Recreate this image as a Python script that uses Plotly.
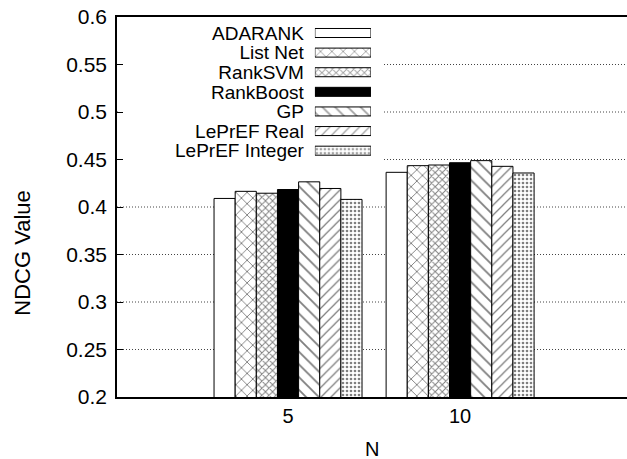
import plotly.graph_objects as go

# ---- data ----
N_labels = ["5", "10"]
series_names = ["ADARANK", "List Net", "RankSVM", "RankBoost", "GP",
                "LePrEF Real", "LePrEF Integer"]
adarank = [0.409, 0.4365]
list_net = [0.4165, 0.4435]
rank_svm = [0.4145, 0.4442]
rank_boost = [0.4184, 0.4466]
gp = [0.4265, 0.4488]
leprEF_real = [0.4195, 0.4428]
leprEF_integer = [0.408, 0.4358]
y_tick_vals = [0.2, 0.25, 0.3, 0.35, 0.4, 0.45, 0.5, 0.55, 0.6]
y_tick_text = ["0.2", "0.25", "0.3", "0.35", "0.4", "0.45", "0.5", "0.55", "0.6"]

values = [adarank, list_net, rank_svm, rank_boost, gp, leprEF_real, leprEF_integer]

# ---- styles ----
styles = [
    dict(color="white", shape="", size=8, solidity=0.2),
    dict(color="white", shape="x", size=8, solidity=0.22),
    dict(color="white", shape="x", size=5, solidity=0.35),
    dict(color="black", shape="", size=8, solidity=0.2),
    dict(color="white", shape="\\", size=9, solidity=0.2),
    dict(color="white", shape="/", size=7, solidity=0.18),
    dict(color="white", shape=".", size=4, solidity=0.35),
]

FONT = "Liberation Sans, Arial, sans-serif"
fig = go.Figure()

for name, vals, st in zip(series_names, values, styles):
    fig.add_trace(go.Bar(
        x=N_labels, y=vals, name=name, showlegend=False,
        marker=dict(
            color=st["color"],
            line=dict(color="black", width=1),
            pattern=dict(shape=st["shape"], fgcolor="black", bgcolor=st["color"],
                         size=st["size"], solidity=st["solidity"]),
        ),
        xaxis="x", yaxis="y",
    ))

# legend samples drawn as a small horizontal bar chart
fig.add_trace(go.Bar(
    y=series_names, x=[1] * len(series_names), orientation="h",
    width=0.46, showlegend=False, hoverinfo="skip",
    marker=dict(
        color=[s["color"] for s in styles],
        line=dict(color="black", width=1),
        pattern=dict(shape=[s["shape"] for s in styles],
                     fgcolor="black",
                     bgcolor=[s["color"] for s in styles],
                     size=[s["size"] for s in styles],
                     solidity=[s["solidity"] for s in styles]),
    ),
    xaxis="x2", yaxis="y2",
))

# dotted grid lines (drawn as shapes so the key box can mask them)
shapes = []
for v in y_tick_vals[1:-1]:
    shapes.append(dict(type="line", xref="x domain", yref="y",
                       x0=0, x1=1, y0=v, y1=v, layer="below",
                       line=dict(color="#444", width=1, dash="1px,2px")))
# key box background
shapes.append(dict(type="rect", xref="x domain", yref="y domain",
                   x0=0.003, x1=0.52, y0=0.61, y1=0.995,
                   fillcolor="white", line=dict(width=0), layer="below"))

fig.update_layout(
    width=627, height=459,
    margin=dict(l=117, r=0, t=17, b=62),
    paper_bgcolor="white", plot_bgcolor="white",
    barmode="group", bargap=0.14, bargroupgap=0,
    font=dict(family=FONT, size=20, color="black"),
    xaxis=dict(
        type="category", range=[-0.994, 1.97],
        showline=True, linecolor="black", linewidth=2, mirror=True,
        showgrid=False, ticks="", tickfont=dict(size=20),
        ticklabelstandoff=0, zeroline=False,
    ),
    yaxis=dict(
        range=[0.2, 0.6], tickvals=y_tick_vals, ticktext=y_tick_text,
        showline=True, linecolor="black", linewidth=1.5, mirror=False,
        showgrid=False,
        ticks="inside", ticklen=6, tickcolor="black", tickwidth=1,
        tickfont=dict(size=21), ticklabelstandoff=4, zeroline=False,
    ),
    xaxis2=dict(domain=[0.388, 0.498], range=[0, 1], anchor="y2",
                visible=False, fixedrange=True),
    yaxis2=dict(domain=[0.6224, 0.9837], anchor="x2", type="category",
                range=[6.5, -0.5], showline=False, showgrid=False,
                tickmode="array", tickvals=series_names, ticktext=series_names,
                zeroline=False, ticks="", tickfont=dict(size=19),
                ticklabelstandoff=10),
    shapes=shapes,
    annotations=[
        dict(text="NDCG Value", xref="paper", yref="paper",
             x=-0.186, y=0.38, textangle=-90, showarrow=False,
             font=dict(size=22), xanchor="center", yanchor="middle"),
        dict(text="N", xref="paper", yref="paper",
             x=0.5, y=-0.136, showarrow=False,
             font=dict(size=20), xanchor="center", yanchor="middle"),
    ],
)

fig.write_html("out.html")
